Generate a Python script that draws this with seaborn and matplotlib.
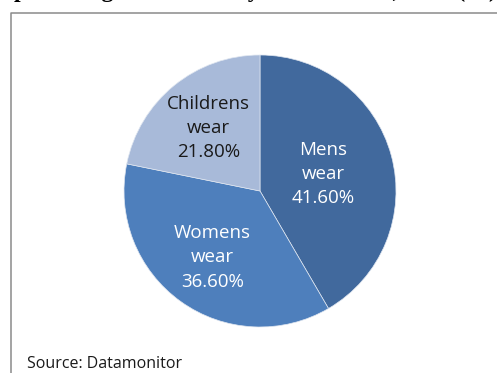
import matplotlib
matplotlib.use("Agg")
import matplotlib.pyplot as plt
import seaborn as sns
import numpy as np
from matplotlib.lines import Line2D

# Segment shares of the clothing market
segments = ["Mens\nwear", "Womens\nwear", "Childrens\nwear"]
shares = [41.6, 36.6, 21.8]
slice_colors = ["#41699d", "#4e7fbc", "#a8bad9"]
label_colors = ["white", "white", "#1a1a1a"]
label_radius = [0.48, 0.60, 0.60]

sns.set_theme(style="white")
plt.rcParams["font.family"] = ["Open Sans", "DejaVu Sans"]

W, H = 497, 373
fig = plt.figure(figsize=(W / 100, H / 100), dpi=100)
fig.patch.set_facecolor("white")

# pie axes placed in pixel units: centre (260, 191), radius 136
cx, cy, r = 260, 191, 136
ax = fig.add_axes([(cx - r) / W, (H - cy - r) / H, 2 * r / W, 2 * r / H])

wedges, _ = ax.pie(
    shares,
    colors=slice_colors,
    startangle=90,
    counterclock=False,
    radius=1.0,
    wedgeprops=dict(edgecolor="#dfe6f0", linewidth=0.5),
)
ax.set_xlim(-1, 1)
ax.set_ylim(-1, 1)
ax.set_aspect("equal")
ax.axis("off")

for w, name, val, col, rad in zip(wedges, segments, shares, label_colors, label_radius):
    mid = np.deg2rad((w.theta1 + w.theta2) / 2)
    ax.text(rad * np.cos(mid), rad * np.sin(mid), f"{name}\n{val:.2f}%",
            ha="center", va="center", color=col, fontsize=13.5,
            linespacing=1.45)

# chart frame (cropped on the right and bottom)
fig.add_artist(Line2D([11 / W, 11 / W, 1.0], [0.0, 1 - 13 / H, 1 - 13 / H],
                      transform=fig.transFigure, color="#8a8a8a", lw=1.1,
                      zorder=5))

# heading, only its descenders reach into the visible area
fig.text(14 / W, 1 + 19.5 / H, "percentage of market by sales volume, 2010 (%)",
         ha="left", va="top", fontsize=17, fontweight="bold",
         family=["Liberation Serif", "DejaVu Serif"], color="black",
         transform=fig.transFigure)

fig.text(27 / W, 5 / H, "Source: Datamonitor", ha="left", va="baseline",
         fontsize=11.5, color="#1a1a1a")

fig.savefig("out.png", dpi=100, facecolor="white")
